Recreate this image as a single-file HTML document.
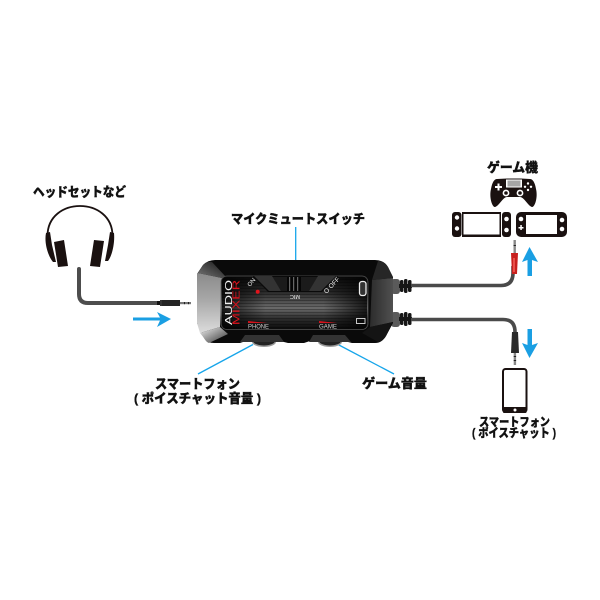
<!DOCTYPE html>
<html><head><meta charset="utf-8"><style>
html,body{margin:0;padding:0;background:#fff}
svg{display:block}
text{font-family:"Liberation Sans","Noto Sans CJK JP",sans-serif;font-weight:900;fill:#111}
.jp{stroke:#111;stroke-width:.35}
.d{font-family:"Liberation Sans",sans-serif;font-weight:400}
</style></head><body>
<svg width="600" height="600" viewBox="0 0 600 600" xmlns="http://www.w3.org/2000/svg">
<defs>
<linearGradient id="screen" x1="0" y1="0" x2="0" y2="1">
<stop offset="0" stop-color="#0c0c0c"/><stop offset=".3" stop-color="#2a2a2a"/><stop offset=".6" stop-color="#6a6a6a"/><stop offset=".8" stop-color="#2c2c2c"/><stop offset="1" stop-color="#0a0a0a"/></linearGradient>
<linearGradient id="sideDark" x1="0" y1="0" x2="1" y2="0">
<stop offset="0" stop-color="#000" stop-opacity=".75"/><stop offset=".3" stop-color="#000" stop-opacity="0"/><stop offset=".7" stop-color="#000" stop-opacity="0"/><stop offset="1" stop-color="#000" stop-opacity=".75"/></linearGradient>
<linearGradient id="left" x1="0" y1="0" x2="0" y2="1">
<stop offset="0" stop-color="#8a8a8a"/><stop offset=".45" stop-color="#a8a8a8"/><stop offset="1" stop-color="#dcdcdc"/></linearGradient>
<linearGradient id="leftLow" x1="0" y1="0" x2="1" y2="1">
<stop offset="0" stop-color="#f2f2f2"/><stop offset="1" stop-color="#333"/></linearGradient>
<linearGradient id="leftTop" x1="0" y1="1" x2="1" y2="0">
<stop offset="0" stop-color="#777"/><stop offset="1" stop-color="#161616"/></linearGradient>
<linearGradient id="right" x1="0" y1="0" x2="1" y2="0">
<stop offset="0" stop-color="#2c2c2c"/><stop offset="1" stop-color="#505050"/></linearGradient>
<pattern id="lines" width="4" height="3" patternUnits="userSpaceOnUse"><rect width="4" height="1" fill="#000" opacity=".28"/></pattern>
</defs>

<!-- Blue leader lines -->
<g stroke="#16a5ea" stroke-width="1.3" fill="none">
<line x1="295.700" y1="227" x2="295.700" y2="262"/>
<line x1="253" y1="344.500" x2="198" y2="374"/>
<line x1="338" y1="344.500" x2="394" y2="374"/>
</g>

<!-- Headphones -->
<path d="M47.500 236 C47.500 196 112.500 196 112.500 236" fill="none" stroke="#1a1110" stroke-width="1.800"/>
<path d="M46 233 L50 232 L52 245 L56 262 L53 262 C48 256 44 243 46 233Z" fill="#1a1110"/>
<path d="M114 233 L110 232 L108 245 L105 261 L108 261 C112 256 115 243 114 233Z" fill="#1a1110"/>
<path d="M54 242 L64 240 L68 266 L58 267Z" fill="#1a1110"/>
<path d="M94 240 L104 241 L100 267 L90 266Z" fill="#1a1110"/>

<!-- Headset cable -->
<path d="M79 269 L79 294 Q79 303 88 303 L158 303" fill="none" stroke="#4d4d4d" stroke-width="4" stroke-linecap="round"/>
<rect x="157" y="301" width="3" height="4" fill="#111"/>
<rect x="160" y="300" width="2" height="6" fill="#333"/>
<path d="M162 300 H180 V306 H162Z" fill="#252525"/>
<rect x="180" y="302" width="11" height="2.200" fill="#777"/>
<rect x="184" y="302" width="1" height="2.200" fill="#222"/>
<rect x="188" y="302" width="1" height="2.200" fill="#222"/>

<!-- Left blue arrow -->
<path d="M133 317.500 H160 L157 312 L171 319 L157 327 L160 320.500 H133Z" fill="#1a9fe3"/>

<!-- Right connectors to device -->
<rect x="391" y="279" width="9" height="15" rx="3" fill="#5a5a5a"/>
<rect x="391" y="312" width="9" height="15" rx="3" fill="#5a5a5a"/>
<g fill="#161616">
<rect x="400" y="280" width="3.500" height="12" rx="1.500"/><rect x="404" y="279" width="3.500" height="14" rx="1.500"/><rect x="408" y="280" width="3.500" height="12" rx="1.500"/>
<rect x="400" y="313" width="3.500" height="12" rx="1.500"/><rect x="404" y="312" width="3.500" height="14" rx="1.500"/><rect x="408" y="313" width="3.500" height="12" rx="1.500"/>
<rect x="399" y="284" width="13" height="4"/><rect x="399" y="317" width="13" height="4"/>
</g>
<path d="M411 285.500 H501 Q513 285.500 513 273 V266" fill="none" stroke="#4a4a4a" stroke-width="3.600"/>
<path d="M411 319.500 H503 Q515 319.500 515 332 V338" fill="none" stroke="#4a4a4a" stroke-width="3.600"/>

<!-- Red plug up -->
<path d="M511 253 H518 L517 274 H512Z" fill="#c8201e"/>
<rect x="513" y="258" width="2" height="14" fill="#e8504a"/>
<rect x="513.500" y="240" width="2.400" height="13" fill="#888"/>
<rect x="513.500" y="245" width="2.400" height="1" fill="#222"/>

<!-- Black plug down -->
<path d="M512 332 H518 L519 353 H511Z" fill="#2a2a2a"/>
<rect x="513.700" y="353" width="2.400" height="12" fill="#888"/>
<rect x="513.700" y="356" width="2.400" height="1" fill="#222"/>
<rect x="513.700" y="360" width="2.400" height="1" fill="#222"/>

<!-- Blue up/down arrows -->
<path d="M527.500 276 V260 L522 262 L529.500 247 L538 262 L532 260 V276Z" fill="#1a9fe3"/>
<path d="M527.500 329 V345 L522 343 L529.500 358 L538 343 L532 345 V329Z" fill="#1a9fe3"/>

<!-- Game controller -->
<path d="M497 179 L507 178.500 H521 L530 179 C533 179 535 183 536 189 C538 197 535 207 532 207 C528 206 524 197 520 197 H507 C503 197 499 206 495 207 C492 207 489 197 491 189 C492 183 494 179 497 179Z" fill="#1a1110"/>
<rect x="506" y="179.500" width="16" height="8" fill="#fff"/>
<rect x="507.500" y="180.500" width="13" height="6" fill="#a5a5a5"/>
<circle cx="506" cy="193" r="3.400" fill="#fff"/><circle cx="506" cy="193" r="1.800" fill="#1a1110"/>
<circle cx="520" cy="193" r="3.400" fill="#fff"/><circle cx="520" cy="193" r="1.800" fill="#1a1110"/>
<g fill="#fff"><rect x="495" y="186" width="7" height="2"/><rect x="497.500" y="183.500" width="2" height="7"/>
<circle cx="528" cy="183.500" r="1.200"/><circle cx="528" cy="190" r="1.200"/><circle cx="525" cy="186.800" r="1.200"/><circle cx="531" cy="186.800" r="1.200"/></g>

<!-- Switch docked -->
<rect x="452" y="212" width="9.500" height="25" rx="3" fill="#1a1110"/>
<rect x="462" y="212" width="39" height="25" fill="#1a1110"/>
<rect x="463.500" y="214" width="36" height="20.500" fill="#fff"/>
<rect x="502" y="212" width="9" height="25" rx="3" fill="#1a1110"/>
<circle cx="457" cy="217.500" r="2.200" fill="#fff"/>
<circle cx="457" cy="228.500" r="2.200" fill="#fff"/><circle cx="506.500" cy="230" r="2.300" fill="#fff"/>
<circle cx="506.500" cy="219" r="2.300" fill="#fff"/>

<!-- Switch handheld -->
<rect x="516" y="212" width="51" height="25" rx="5" fill="#1a1110"/>
<rect x="526" y="215" width="31" height="19" fill="#fff"/>
<circle cx="521" cy="219" r="2.300" fill="#fff"/><rect x="518.500" y="227" width="5" height="1.500" fill="#fff"/><rect x="520.300" y="225" width="1.500" height="5" fill="#fff"/>
<circle cx="562" cy="220" r="2.300" fill="#fff"/><circle cx="562" cy="229" r="2.300" fill="#fff"/>

<!-- Phone -->
<rect x="503" y="369" width="23.500" height="43" rx="2.500" fill="#fff" stroke="#1a1110" stroke-width="2"/>
<rect x="503" y="407" width="23.500" height="6" rx="1" fill="#1a1110"/>
<circle cx="515" cy="410" r="1.500" fill="#fff"/>

<!-- Knobs -->
<ellipse cx="264" cy="342" rx="12" ry="5" fill="#9a9a9a"/>
<ellipse cx="330" cy="342" rx="12" ry="5" fill="#9a9a9a"/>
<ellipse cx="264" cy="341" rx="11" ry="4.500" fill="#222"/>
<ellipse cx="330" cy="341" rx="11" ry="4.500" fill="#222"/>

<!-- Device body -->
<path d="M215 260 H375 Q384 260 388 267 L393 277 V323 L386 336 Q382 343 375 343 H352 L344 341 H310 L304 343 H288 L280 341 H246 L240 343 H214 Q207 343 204 338 L197 323 V274 L203 265 Q208 260 215 260Z" fill="#0a0a0a"/>
<path d="M198 273 L222 278 L220 327 L200 333 L197 323 V274Z" fill="url(#left)"/>
<path d="M198 273 L203 265 Q207 261 212 262 L226 277 L222 278Z" fill="url(#leftTop)"/>
<path d="M200 333 L220 327 L228 334 L209 343 Q206 342 204 338Z" fill="url(#leftLow)"/>
<path d="M372 280 L393 278 V322 L370 327Z" fill="url(#right)"/>
<path d="M372 280 L393 278 L388 267 Q384 261 378 261Z" fill="#262626"/>
<path d="M370 327 L393 322 L386 336 Q383 341 378 342 L362 333Z" fill="#141414"/>

<!-- Knob plates -->
<path d="M245 335 H279 L284 342 H240Z" fill="#333"/>
<path d="M313 335 H345 L351 342 H309Z" fill="#333"/>

<!-- Screen -->
<rect x="221" y="276" width="147" height="53.500" rx="6" fill="url(#screen)" stroke="#555" stroke-width=".7"/>
<rect x="222" y="277" width="145" height="52" rx="5" fill="url(#lines)"/>
<rect x="222" y="277" width="145" height="52" rx="5" fill="url(#sideDark)"/>

<!-- Mute switch recess -->
<path d="M253 276 H338 L322 292 H268Z" fill="#0a0a0a"/>
<path d="M272 277 H318 L309 291 H281Z" fill="#1b1b1b"/>
<path d="M254 276 H272 L281 291 H269Z" fill="#333"/>
<path d="M318 276 H336 L321 291 H309Z" fill="#333"/>
<g fill="#050505"><rect x="287" y="277" width="2" height="14"/><rect x="291" y="277" width="2" height="14"/><rect x="295" y="277" width="2" height="14"/><rect x="299" y="277" width="2" height="14"/></g>
<g fill="#666"><rect x="289" y="277" width="1" height="14"/><rect x="293" y="277" width="1" height="14"/><rect x="297" y="277" width="1" height="14"/></g>

<!-- Device labels -->
<text class="d" transform="translate(232,325) rotate(-90)" font-size="10" textLength="45" lengthAdjust="spacingAndGlyphs" style="font-weight:400;fill:#f2f2f2">AUDIO</text>
<text class="d" transform="translate(239.500,325) rotate(-90)" font-size="10" textLength="45" lengthAdjust="spacingAndGlyphs" style="font-weight:400;fill:#e0121c">MIXER</text>
<text class="d" transform="translate(250,287) rotate(-50)" font-size="6" style="font-weight:400;fill:#eee">ON</text>
<text class="d" transform="translate(326.500,294) rotate(-47)" font-size="6.500" style="font-weight:400;fill:#eee">O OFF</text>
<text class="d" transform="translate(300,295) rotate(180)" font-size="5.500" style="font-weight:400;fill:#eee">MIC</text>
<text class="d" x="248" y="328.500" font-size="6" textLength="21" lengthAdjust="spacingAndGlyphs" style="font-weight:400;fill:#ccc">PHONE</text>
<text class="d" x="319" y="328.500" font-size="6" textLength="18" lengthAdjust="spacingAndGlyphs" style="font-weight:400;fill:#ccc">GAME</text>
<circle cx="257.700" cy="291.700" r="2" fill="#e2141c"/>
<path d="M248 321 L267 323 H248Z" fill="#d6121c"/>
<path d="M319 321 L337 323 H319Z" fill="#d6121c"/>
<rect x="359.500" y="281.500" width="6.500" height="14" rx="2.500" fill="#333" stroke="#eee" stroke-width="1.300"/>
<rect x="356.500" y="318.500" width="8.500" height="5" fill="none" stroke="#ddd" stroke-width=".9"/>

<!-- Japanese labels -->
<text class="jp" x="33" y="196.500" font-size="13" textLength="93" lengthAdjust="spacingAndGlyphs">ヘッドセットなど</text>
<text class="jp" x="231" y="223.500" font-size="13" textLength="134" lengthAdjust="spacingAndGlyphs">マイクミュートスイッチ</text>
<text class="jp" x="487" y="172" font-size="13" textLength="51" lengthAdjust="spacingAndGlyphs">ゲーム機</text>
<text class="jp" x="155" y="388.500" font-size="13" textLength="85" lengthAdjust="spacingAndGlyphs">スマートフォン</text>
<text class="jp" x="134" y="403" font-size="13" textLength="127" lengthAdjust="spacingAndGlyphs">( ポイスチャット音量 )</text>
<text class="jp" x="362" y="388" font-size="13" textLength="65" lengthAdjust="spacingAndGlyphs">ゲーム音量</text>
<text class="jp" x="479" y="426" font-size="12" textLength="71" lengthAdjust="spacingAndGlyphs">スマートフォン</text>
<text class="jp" x="472" y="437" font-size="12" textLength="84" lengthAdjust="spacingAndGlyphs">( ポイスチャット )</text>
</svg>
</body></html>
